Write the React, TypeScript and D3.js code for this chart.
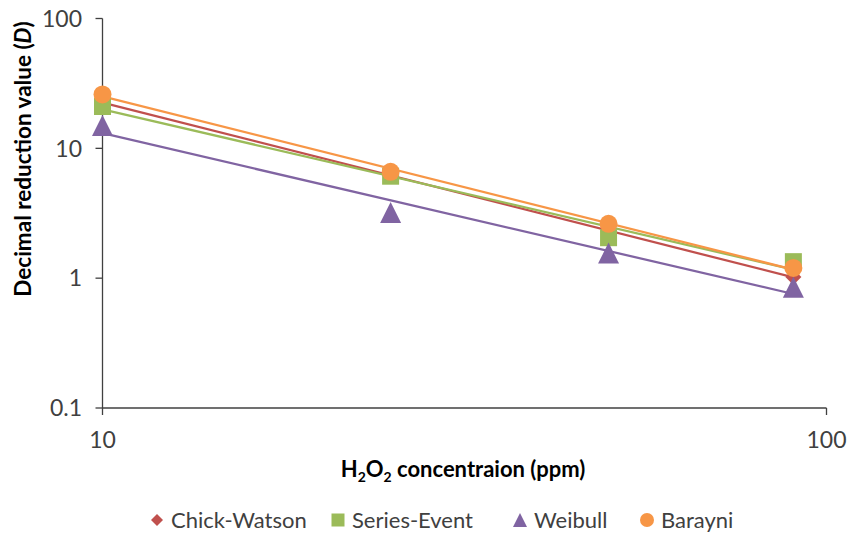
import React from "react";
import * as d3 from "d3";

const concentrations = [10, 25, 50, 90];
const chickWatson = [22.5, 6.2, 2.3, 1.02];
const seriesEvent = [21, 6.1, 2.05, 1.34];
const weibull = [15, 3.2, 1.56, 0.85];
const barayni = [26, 6.6, 2.62, 1.2];

const seriesNames = ["Chick-Watson", "Series-Event", "Weibull", "Barayni"];
const seriesColors = ["#C0504D", "#9BBB59", "#8064A2", "#F79646"];
const seriesShapes = ["diamond", "square", "triangle", "circle"];
const seriesValues = [chickWatson, seriesEvent, weibull, barayni];

const yTicks = [0.1, 1, 10, 100];
const xTicks = [10, 100];
const legendX = [157, 338, 520, 647];

const W = 848;
const H = 533;
const FONT = "Lato, 'Open Sans', sans-serif";

function powerFit(xs: number[], ys: number[]) {
  const lx = xs.map(Math.log10);
  const ly = ys.map(Math.log10);
  const mx = d3.mean(lx)!;
  const my = d3.mean(ly)!;
  let sxy = 0;
  let sxx = 0;
  lx.forEach((v, i) => {
    sxy += (v - mx) * (ly[i] - my);
    sxx += (v - mx) * (v - mx);
  });
  const b = sxy / sxx;
  const a = my - b * mx;
  return (x: number) => Math.pow(10, a + b * Math.log10(x));
}

function Marker({ shape, x, y, size, color }: { shape: string; x: number; y: number; size: number; color: string }) {
  if (shape === "square") {
    return <rect x={x - size / 2} y={y - size / 2} width={size} height={size} fill={color} />;
  }
  if (shape === "circle") {
    return <circle cx={x} cy={y} r={size / 2} fill={color} />;
  }
  if (shape === "triangle") {
    const h = size;
    const w = size;
    return <path d={`M${x},${y - h / 2}L${x + w / 2},${y + h / 2}L${x - w / 2},${y + h / 2}Z`} fill={color} />;
  }
  const s = size / 2;
  return <path d={`M${x},${y - s}L${x + s},${y}L${x},${y + s}L${x - s},${y}Z`} fill={color} />;
}

export default function App() {
  const x = d3.scaleLog().domain([10, 100]).range([102.5, 826.5]);
  const y = d3.scaleLog().domain([0.1, 100]).range([408, 18.5]);
  const line = d3
    .line<number[]>()
    .x((d) => x(d[0]))
    .y((d) => y(d[1]));

  const markerSizes = [16, 17, 21, 18];
  const legendSizes = [12, 13, 14, 14];

  return (
    <svg width={W} height={H} style={{ position: "absolute", left: 0, top: 0, background: "#fff" }} fontFamily={FONT}>
      <rect width={W} height={H} fill="#fff" />
      {/* axes */}
      <line x1={x(10)} x2={x(10)} y1={y(100)} y2={y(0.1)} stroke="#404040" strokeWidth={1.3} />
      <line x1={x(10)} x2={x(100)} y1={y(0.1)} y2={y(0.1)} stroke="#404040" strokeWidth={1.3} />
      {yTicks.map((t) => (
        <g key={"y" + t}>
          <line x1={x(10) - 7} x2={x(10)} y1={y(t)} y2={y(t)} stroke="#404040" strokeWidth={1.3} />
          <text x={82} y={y(t)} dy="0.36em" textAnchor="end" fontSize={23} fill="#404040">
            {t}
          </text>
        </g>
      ))}
      {xTicks.map((t) => (
        <g key={"x" + t}>
          <line x1={x(t)} x2={x(t)} y1={y(0.1)} y2={y(0.1) + 7} stroke="#404040" strokeWidth={1.3} />
          <text x={x(t)} y={448} textAnchor="middle" fontSize={23} fill="#404040">
            {t}
          </text>
        </g>
      ))}
      {/* trendlines */}
      {seriesValues.map((vals, i) => {
        const f = powerFit(concentrations, vals);
        const pts = [
          [10, f(10)],
          [90, f(90)],
        ];
        return <path key={"l" + i} d={line(pts)!} stroke={seriesColors[i]} strokeWidth={2.25} fill="none" />;
      })}
      {/* markers */}
      {seriesValues.map((vals, i) => (
        <g key={"m" + i}>
          {vals.map((v, j) => (
            <Marker key={j} shape={seriesShapes[i]} x={x(concentrations[j])} y={y(v)} size={markerSizes[i]} color={seriesColors[i]} />
          ))}
        </g>
      ))}
      {/* axis titles */}
      <text x={463} y={477} textAnchor="middle" fontSize={22} fontWeight="bold" fill="#000">
        H<tspan fontSize={14} dy={5}>2</tspan>
        <tspan dy={-5}>O</tspan>
        <tspan fontSize={14} dy={5}>2</tspan>
        <tspan dy={-5}> concentraion (ppm)</tspan>
      </text>
      <text transform="translate(31,159) rotate(-90)" textAnchor="middle" fontSize={22.5} fontWeight="bold" fill="#000">
        Decimal reduction value (<tspan fontStyle="italic">D</tspan>)
      </text>
      {/* legend */}
      {seriesNames.map((n, i) => (
        <g key={"lg" + i}>
          <Marker shape={seriesShapes[i]} x={legendX[i]} y={520} size={legendSizes[i]} color={seriesColors[i]} />
          <text x={legendX[i] + 14} y={520} dy="0.36em" fontSize={22} fill="#404040">
            {n}
          </text>
        </g>
      ))}
    </svg>
  );
}
